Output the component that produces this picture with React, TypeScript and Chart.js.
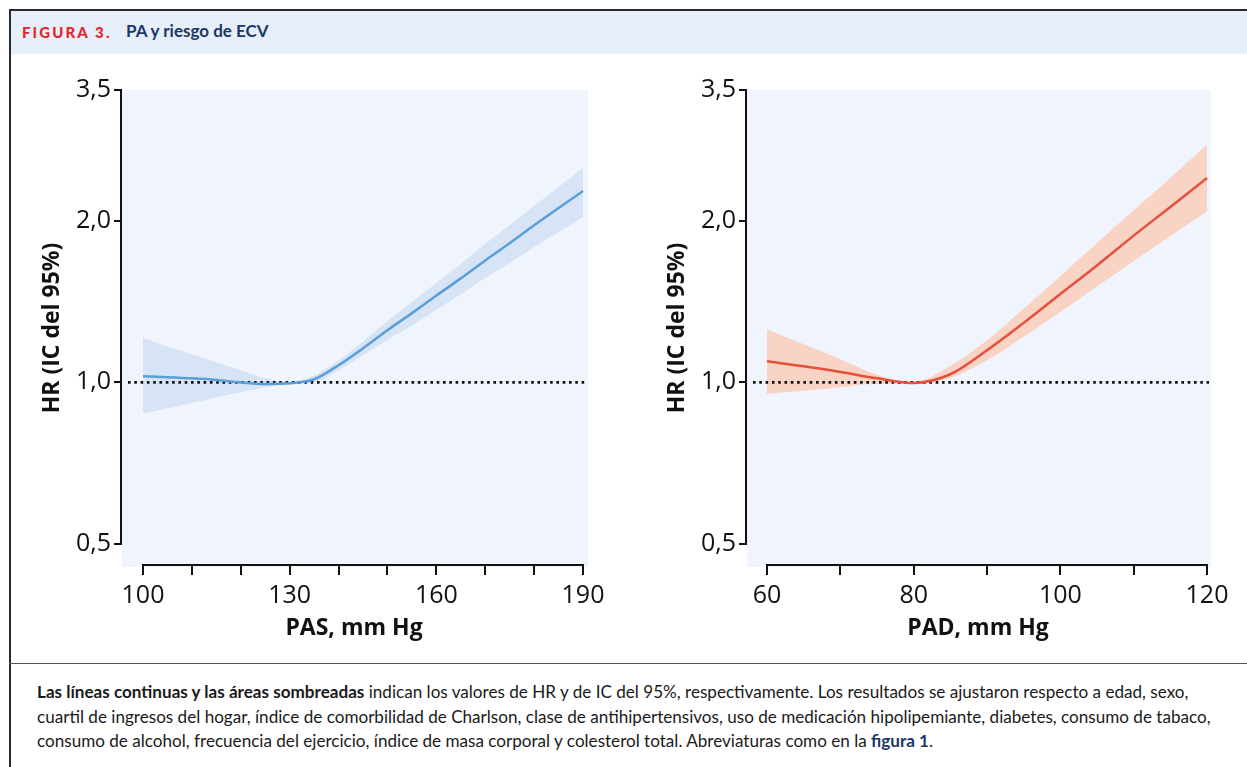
import React, { useEffect, useRef } from 'react';
import { Chart, registerables } from 'chart.js';
Chart.register(...registerables);

// ---- Data ----
const pasX = [100, 105, 110, 115, 120, 125, 130, 135, 140, 145, 150, 155, 160, 165, 170, 175, 180, 185, 190];
const pasHR = [1.026, 1.022, 1.017, 1.010, 0.999, 0.993, 0.996, 1.013, 1.076, 1.157, 1.25, 1.345, 1.45, 1.561, 1.686, 1.815, 1.96, 2.11, 2.27];
const pasUpper = [1.21, 1.165, 1.128, 1.09, 1.053, 1.017, 1.0, 1.03, 1.099, 1.19, 1.30, 1.41, 1.53, 1.66, 1.81, 1.96, 2.13, 2.31, 2.51];
const pasLower = [0.875, 0.895, 0.915, 0.937, 0.958, 0.979, 0.995, 1.0, 1.053, 1.123, 1.20, 1.275, 1.365, 1.459, 1.563, 1.667, 1.785, 1.904, 2.03];

const padX = [60, 65, 70, 75, 80, 85, 90, 95, 100, 105, 110, 115, 120];
const padHR = [1.094, 1.071, 1.045, 1.017, 0.997, 1.035, 1.147, 1.29, 1.46, 1.65, 1.875, 2.12, 2.40];
const padUpper = [1.255, 1.177, 1.104, 1.033, 1.0, 1.073, 1.197, 1.371, 1.576, 1.816, 2.09, 2.40, 2.77];
const padLower = [0.951, 0.964, 0.979, 0.994, 0.995, 1.02, 1.099, 1.216, 1.352, 1.508, 1.68, 1.871, 2.08];

const yTicks = [0.5, 1.0, 2.0, 3.5];
const yTickLabels = ['0,5', '1,0', '2,0', '3,5'];
const pasTicks = [100, 110, 120, 130, 140, 150, 160, 170, 180, 190];
const pasLabeled = [100, 130, 160, 190];
const padTicks = [60, 70, 80, 90, 100, 110, 120];
const padLabeled = [60, 80, 100, 120];
const refHR = 1.0;

const TICK_FONT = 'Open Sans';

type PanelProps = {
  xs: number[];
  hr: number[];
  upper: number[];
  lower: number[];
  xTicks: number[];
  xLabeled: number[];
  xMin: number;
  xMax: number;
  xTitle: string;
  lineColor: string;
  bandColor: string;
  padRight: number;
};

function Panel(props: PanelProps) {
  const ref = useRef<HTMLCanvasElement>(null);
  useEffect(() => {
    const ctx = ref.current!.getContext('2d')!;
    const toPts = (arr: number[]) => props.xs.map((x, i) => ({ x, y: arr[i] }));
    const xFirst = props.xTicks[0];
    const xLast = props.xTicks[props.xTicks.length - 1];
    const deco = {
      id: 'deco',
      beforeDraw(chart: any) {
        const { ctx, chartArea: a } = chart;
        ctx.save();
        ctx.fillStyle = '#f0f4fc';
        ctx.fillRect(a.left, a.top, a.right - a.left + 2, a.bottom - a.top + 1);
        ctx.restore();
      },
      beforeDatasetDraw(chart: any, args: any) {
        if (args.index !== 2) return;
        const { ctx, chartArea: a, scales } = chart;
        const y = scales.y.getPixelForValue(refHR);
        ctx.save();
        ctx.strokeStyle = '#111';
        ctx.lineWidth = 2.8;
        ctx.setLineDash([2.6, 3.7]);
        ctx.beginPath();
        ctx.moveTo(a.left + 6, y);
        ctx.lineTo(a.right, y);
        ctx.stroke();
        ctx.restore();
      },
      afterDraw(chart: any) {
        const { ctx, chartArea: a, scales } = chart;
        ctx.save();
        ctx.strokeStyle = '#111';
        ctx.lineWidth = 2;
        ctx.beginPath();
        ctx.moveTo(a.left - 1, scales.y.getPixelForValue(yTicks[yTicks.length - 1]) - 1);
        ctx.lineTo(a.left - 1, scales.y.getPixelForValue(yTicks[0]) + 1);
        ctx.moveTo(scales.x.getPixelForValue(xFirst) - 1, a.bottom - 1);
        ctx.lineTo(scales.x.getPixelForValue(xLast) + 1, a.bottom - 1);
        ctx.stroke();
        ctx.restore();
      },
    };
    const chart = new Chart(ctx, {
      type: 'line',
      data: {
        datasets: [
          {
            data: toPts(props.upper),
            borderWidth: 0,
            pointRadius: 0,
            fill: '+1',
            backgroundColor: props.bandColor,
            cubicInterpolationMode: 'monotone',
            order: 2,
          },
          {
            data: toPts(props.lower),
            borderWidth: 0,
            pointRadius: 0,
            fill: false,
            cubicInterpolationMode: 'monotone',
            order: 1,
          },
          {
            data: toPts(props.hr),
            borderWidth: 2.5,
            borderColor: props.lineColor,
            pointRadius: 0,
            fill: false,
            cubicInterpolationMode: 'monotone',
            order: 0,
          },
        ],
      } as any,
      options: {
        animation: false,
        responsive: false,
        layout: { padding: { top: 30, right: props.padRight, bottom: 0, left: 0 } },
        plugins: { legend: { display: false }, tooltip: { enabled: false } },
        scales: {
          x: {
            type: 'linear',
            min: props.xMin,
            max: props.xMax,
            afterBuildTicks: (s: any) => {
              s.ticks = props.xTicks.map((v) => ({ value: v }));
            },
            afterFit: (s: any) => {
              s.height = 94;
            },
            grid: { display: true, drawOnChartArea: false, drawTicks: true, tickLength: 9, color: '#111', lineWidth: 2 },
            border: { display: false },
            ticks: {
              autoSkip: false,
              maxRotation: 0,
              padding: 6,
              color: '#111',
              font: { family: TICK_FONT, size: 25 },
              callback: (v: any) => (props.xLabeled.includes(Number(v)) ? String(v) : ''),
            },
            title: {
              display: true,
              text: props.xTitle,
              color: '#111',
              font: { family: TICK_FONT, size: 23, weight: 'bold' },
              padding: { top: 0, bottom: 18 },
            },
          },
          y: {
            type: 'logarithmic',
            min: 0.455,
            max: 3.5,
            afterBuildTicks: (s: any) => {
              s.ticks = yTicks.map((v) => ({ value: v }));
            },
            afterFit: (s: any) => {
              s.width = 122;
            },
            grid: { display: true, drawOnChartArea: false, drawTicks: true, tickLength: 8, color: '#111', lineWidth: 2 },
            border: { display: false },
            ticks: {
              padding: 3,
              color: '#111',
              font: { family: TICK_FONT, size: 25 },
              callback: (v: any) => {
                const i = yTicks.indexOf(Number(v));
                return i >= 0 ? yTickLabels[i] : '';
              },
            },
            title: {
              display: true,
              text: 'HR (IC del 95%)',
              color: '#111',
              font: { family: TICK_FONT, size: 23, weight: 'bold' },
              padding: { top: 39, bottom: 0 },
            },
          },
        },
      } as any,
      plugins: [deco],
    });
    return () => chart.destroy();
  }, []);
  return <canvas ref={ref} width={620} height={600} style={{ width: 620, height: 600, display: 'block' }} />;
}

export default function App() {
  return (
    <div style={{ position: 'fixed', left: 0, top: 0, width: 1247, height: 767, overflow: 'hidden', background: '#fff' }}>
      {/* frame */}
      <div style={{ position: 'absolute', left: 9, top: 9, width: 1300, height: 800, borderLeft: '2px solid #2a2a2a', borderTop: '2px solid #2a2a2a' }} />
      {/* header */}
      <div style={{ position: 'absolute', left: 11, top: 11, width: 1300, height: 43, background: '#e6eef9' }} />
      <div style={{ position: 'absolute', left: 22, top: 22, whiteSpace: 'nowrap', fontFamily: 'Lato', fontWeight: 900, fontSize: 15, letterSpacing: 2.1, color: '#e2262c', lineHeight: '20px' }}>
        FIGURA 3.
      </div>
      <div style={{ position: 'absolute', left: 126, top: 21, whiteSpace: 'nowrap', fontFamily: 'Lato', fontWeight: 700, fontSize: 17, color: '#1b3768', lineHeight: '20px' }}>
        PA y riesgo de ECV
      </div>
      {/* charts */}
      <div style={{ position: 'absolute', left: 0, top: 60 }}>
        <Panel xs={pasX} hr={pasHR} upper={pasUpper} lower={pasLower} xTicks={pasTicks} xLabeled={pasLabeled} xMin={95.7} xMax={190.61} xTitle="PAS, mm Hg" lineColor="#5a9fd9" bandColor="#d6e4f5" padRight={34} />
      </div>
      <div style={{ position: 'absolute', left: 625, top: 60 }}>
        <Panel xs={padX} hr={padHR} upper={padUpper} lower={padLower} xTicks={padTicks} xLabeled={padLabeled} xMin={57.27} xMax={120.27} xTitle="PAD, mm Hg" lineColor="#e5503c" bandColor="#f9d3c4" padRight={36} />
      </div>
      {/* divider */}
      <div style={{ position: 'absolute', left: 9, top: 663, width: 1300, height: 0, borderTop: '1.5px solid #555' }} />
      {/* caption */}
      <div style={{ position: 'absolute', left: 37, top: 680, fontFamily: 'Lato', fontSize: 17.1, color: '#1a1a1a', lineHeight: '24.5px', whiteSpace: 'nowrap' }}>
        <div><b>Las líneas continuas y las áreas sombreadas</b> indican los valores de HR y de IC del 95%, respectivamente. Los resultados se ajustaron respecto a edad, sexo,</div>
        <div>cuartil de ingresos del hogar, índice de comorbilidad de Charlson, clase de antihipertensivos, uso de medicación hipolipemiante, diabetes, consumo de tabaco,</div>
        <div>consumo de alcohol, frecuencia del ejercicio, índice de masa corporal y colesterol total. Abreviaturas como en la <b style={{ color: '#1b3768' }}>figura 1</b>.</div>
      </div>
    </div>
  );
}
